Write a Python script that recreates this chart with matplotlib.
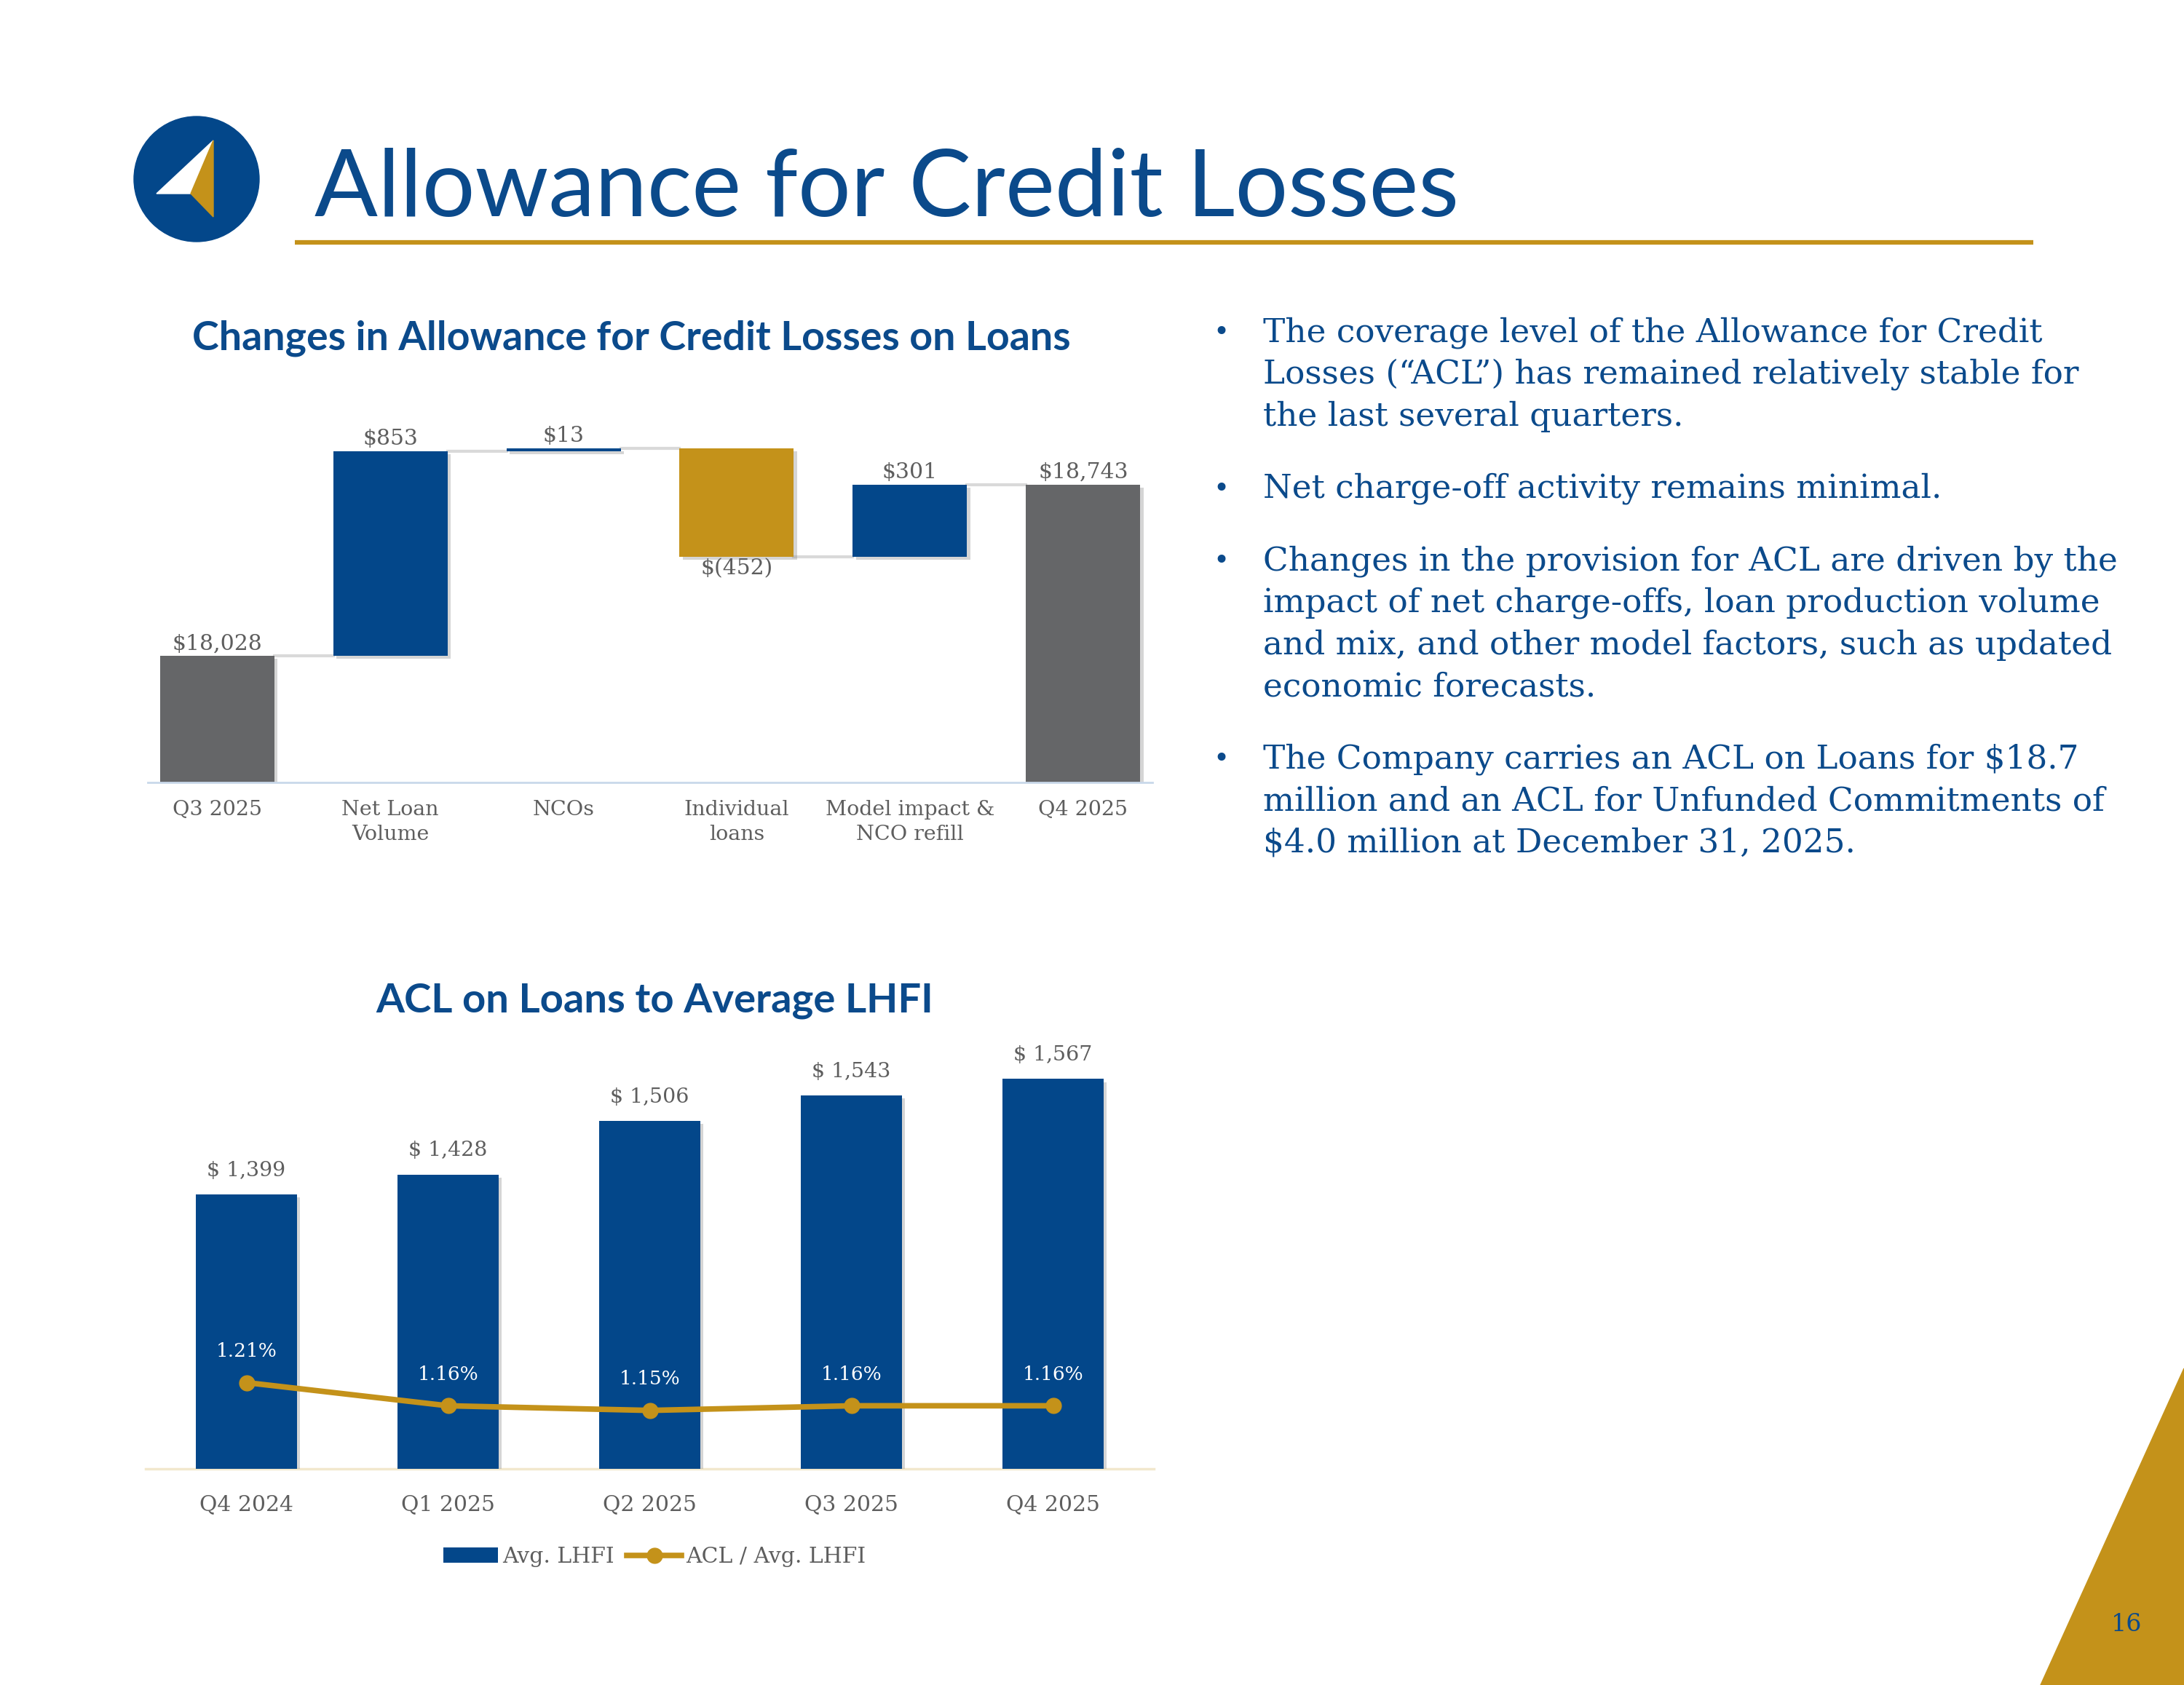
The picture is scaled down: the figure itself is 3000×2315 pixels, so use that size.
import matplotlib
matplotlib.use('Agg')
import matplotlib.pyplot as plt
import matplotlib.patheffects as pe
from matplotlib.patches import Circle, Polygon, Patch
from matplotlib.lines import Line2D

BLUE = '#03478A'
NAVY = '#0B4A8B'
GOLD = '#C4921A'
GRAY_BAR = '#656668'
GRAY_TXT = '#5E5E5E'

# waterfall: changes in ACL on loans
wf_cats = ['Q3 2025', 'Net Loan\nVolume', 'NCOs', 'Individual\nloans', 'Model impact &\nNCO refill', 'Q4 2025']
wf_vals = [18028, 853, 13, -452, 301, 18743]
wf_labels = ['$18,028', '$853', '$13', '$(452)', '$301', '$18,743']

# ACL on loans to average LHFI
quarters = ['Q4 2024', 'Q1 2025', 'Q2 2025', 'Q3 2025', 'Q4 2025']
avg_lhfi = [1399, 1428, 1506, 1543, 1567]
lhfi_labels = ['$ 1,399', '$ 1,428', '$ 1,506', '$ 1,543', '$ 1,567']
acl_ratio = [1.21, 1.16, 1.15, 1.16, 1.16]

bullet_lines = [
    ['The coverage level of the Allowance for Credit',
     'Losses (\u201cACL\u201d) has remained relatively stable for',
     'the last several quarters.'],
    ['Net charge-off activity remains minimal.'],
    ['Changes in the provision for ACL are driven by the',
     'impact of net charge-offs, loan production volume',
     'and mix, and other model factors, such as updated',
     'economic forecasts.'],
    ['The Company carries an ACL on Loans for $18.7',
     'million and an ACL for Unfunded Commitments of',
     '$4.0 million at December 31, 2025.'],
]

plt.rcParams['font.family'] = ['DejaVu Serif']

W, H = 3000, 2315
fig = plt.figure(figsize=(30, 23.15), dpi=100)

# background layer in pixel coords for the slide decorations
bg = fig.add_axes([0, 0, 1, 1])
bg.set_xlim(0, W)
bg.set_ylim(H, 0)
bg.axis('off')

bg.add_patch(Circle((270, 246), 86, color=BLUE))
bg.add_patch(Polygon([(293, 193), (215, 266), (262, 266)], color='white'))
bg.add_patch(Polygon([(293, 193), (262, 266), (293, 298)], color=GOLD))

bg.text(432, 297, 'Allowance for Credit Losses', fontsize=92.5, color=NAVY,
        family='Lato', va='baseline')
bg.plot([405, 2793], [333, 333], color=GOLD, lw=4.5, solid_capstyle='butt')

bg.add_patch(Polygon([(3000, 1880), (2803, 2315), (3000, 2315)], color=GOLD))
bg.text(2921, 2232, '16', ha='center', va='center', fontsize=24, color=NAVY)

# bullet text
y = 457
for block in bullet_lines:
    bg.text(1666, y, '\u2022', ha='left', va='center', fontsize=27, color=NAVY)
    for line in block:
        bg.text(1735, y, line, ha='left', va='center', fontsize=32.7, color=NAVY)
        y += 57.5
    y += 42

bg.text(867, 465, 'Changes in Allowance for Credit Losses on Loans', ha='center', va='center',
        fontsize=40, fontweight='bold', family='Lato', color=NAVY)
bg.text(899, 1375, 'ACL on Loans to Average LHFI', ha='center', va='center',
        fontsize=40.5, fontweight='bold', family='Lato', color=NAVY)

shadow = [pe.SimplePatchShadow(offset=(3, -3), shadow_rgbFace='#888888', alpha=0.35), pe.Normal()]

# ---- waterfall ----
ax1 = fig.add_axes([203 / W, 1 - 1075 / H, 1380 / W, 527 / H])
ax1.set_facecolor('none')
bw = 0.66
bottoms, heights, levels = [], [], []
running = wf_vals[0]
for i, v in enumerate(wf_vals):
    if i == 0 or i == len(wf_vals) - 1:
        bottoms.append(0)
        heights.append(v)
        running = v
    else:
        bottoms.append(running if v > 0 else running + v)
        heights.append(abs(v))
        running += v
    levels.append(running)
colors = [GRAY_BAR, BLUE, BLUE, GOLD, BLUE, GRAY_BAR]
bars = ax1.bar(range(len(wf_vals)), heights, bottom=bottoms, width=bw, color=colors, zorder=3)
for b in bars:
    b.set_path_effects(shadow)
for i in range(len(wf_vals) - 1):
    ax1.plot([i + bw / 2, i + 1 - bw / 2], [levels[i], levels[i]], color='#D9D9D9', lw=3, zorder=2)
for i, v in enumerate(wf_vals):
    if v < 0:
        ax1.annotate(wf_labels[i], (i, bottoms[i]), xytext=(0, -2), textcoords='offset points',
                     ha='center', va='top', fontsize=21.5, color=GRAY_TXT)
    else:
        ax1.annotate(wf_labels[i], (i, bottoms[i] + heights[i]), xytext=(0, 2), textcoords='offset points',
                     ha='center', va='bottom', fontsize=21.5, color=GRAY_TXT)
ax1.set_xlim(-0.4, len(wf_vals) - 0.6)
ax1.set_ylim(17500, 19100)
ax1.set_xticks(range(len(wf_cats)))
ax1.set_xticklabels(wf_cats, fontsize=20.5, color=GRAY_TXT, linespacing=1.35)
ax1.tick_params(axis='x', length=0, pad=17)
ax1.set_yticks([])
for s in ['top', 'right', 'left']:
    ax1.spines[s].set_visible(False)
ax1.spines['bottom'].set_color('#C9D8EA')
ax1.spines['bottom'].set_linewidth(2)
ax1.spines['bottom'].set_zorder(4)

# ---- ACL / avg LHFI ----
ax2 = fig.add_axes([200 / W, 1 - 2018 / H, 1385 / W, 614 / H])
ax2.set_facecolor('none')
xs = range(len(quarters))
bars2 = ax2.bar(xs, avg_lhfi, width=0.5, color=BLUE, zorder=3)
for b in bars2:
    b.set_path_effects(shadow)
for i, v in enumerate(avg_lhfi):
    ax2.annotate(lhfi_labels[i], (i, v), xytext=(0, 14), textcoords='offset points',
                 ha='center', va='bottom', fontsize=20.5, color=GRAY_TXT)
ax2.set_xlim(-0.5, len(quarters) - 0.5)
ax2.set_ylim(1000, 1650)
ax2.set_xticks(list(xs))
ax2.set_xticklabels(quarters, fontsize=21.5, color=GRAY_TXT)
ax2.tick_params(axis='x', length=0, pad=25)
ax2.set_yticks([])
for s in ['top', 'right', 'left']:
    ax2.spines[s].set_visible(False)
ax2.spines['bottom'].set_color('#F2E8CD')
ax2.spines['bottom'].set_linewidth(2.5)

ax3 = ax2.twinx()
ax3.plot(list(xs), acl_ratio, color=GOLD, lw=5.5, marker='o', ms=15, zorder=5)
for i, v in enumerate(acl_ratio):
    ax3.annotate('%.2f%%' % v, (i, v), xytext=(0, 31), textcoords='offset points',
                 ha='center', va='center', fontsize=19, color='white')
ax3.set_ylim(1.024, 1.988)
ax3.set_yticks([])
for s in ax3.spines.values():
    s.set_visible(False)

handles = [Patch(facecolor=BLUE),
           Line2D([], [], color=GOLD, lw=5.5, marker='o', ms=15)]
fig.legend(handles, ['Avg. LHFI', 'ACL / Avg. LHFI'], loc='center', ncol=2, frameon=False,
           bbox_to_anchor=(899 / W, 1 - 2139 / H), fontsize=21.5, labelcolor=GRAY_TXT,
           handlelength=2.5, handletextpad=0.2, columnspacing=0.6)

fig.savefig('out.png', dpi=100)
